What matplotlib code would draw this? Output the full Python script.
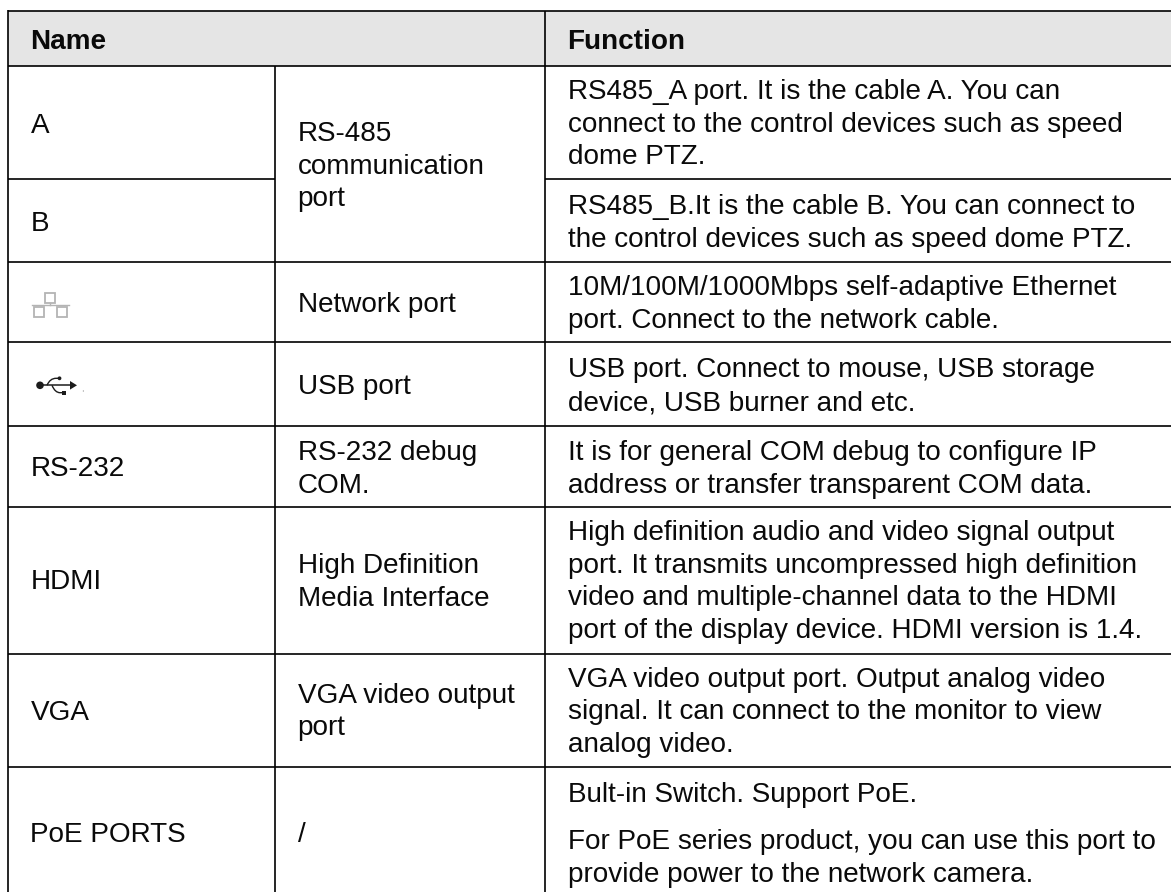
import matplotlib
matplotlib.use("Agg")
import matplotlib.pyplot as plt
from matplotlib.patches import Rectangle, Circle, Polygon, PathPatch
from matplotlib.path import Path

W, H = 1171, 892
plt.rcParams['font.family'] = ['Liberation Sans', 'DejaVu Sans']

col_lines = [7.7, 275.3, 545]
row_lines = [11.2, 65.7, 179.3, 261.7, 342, 426, 506.7, 653.7, 766.7]

header = ["Name", "Function"]
header_base = 48.7

names = ["A", "B", "RS-232", "HDMI", "VGA", "PoE PORTS"]
name_base = [133.3, 230.7, 476, 589.3, 720, 841.7]

ports = ["RS-485", "communication", "port", "Network port", "USB port", "RS-232 debug", "COM.",
         "High Definition", "Media Interface", "VGA video output", "port", "/"]
port_base = [141, 173.7, 206, 311.7, 393.5, 460, 492.7, 573.3, 605.7, 703.3, 735, 841.7]

functions = [
    "RS485_A port. It is the cable A. You can",
    "connect to the control devices such as speed",
    "dome PTZ.",
    "RS485_B.It is the cable B. You can connect to",
    "the control devices such as speed dome PTZ.",
    "10M/100M/1000Mbps self-adaptive Ethernet",
    "port. Connect to the network cable.",
    "USB port. Connect to mouse, USB storage",
    "device, USB burner and etc.",
    "It is for general COM debug to configure IP",
    "address or transfer transparent COM data.",
    "High definition audio and video signal output",
    "port. It transmits uncompressed high definition",
    "video and multiple-channel data to the HDMI",
    "port of the display device. HDMI version is 1.4.",
    "VGA video output port. Output analog video",
    "signal. It can connect to the monitor to view",
    "analog video.",
    "Bult-in Switch. Support PoE.",
    "For PoE series product, you can use this port to",
    "provide power to the network camera.",
]
function_base = [99.3, 132.3, 164.3, 214, 246.7, 295, 328, 377, 410, 460, 492.7,
                 540, 572.7, 605, 638, 686.7, 719, 751.5, 801.7, 849.3, 881.7]

fig = plt.figure(figsize=(W / 100, H / 100), dpi=100)
ax = fig.add_axes([0, 0, 1, 1])
ax.set_xlim(0, W)
ax.set_ylim(H, 0)
ax.axis("off")

FS = 20.07
LW = 1.2
INK = "#0a0a0a"
kw = dict(fontsize=FS, color=INK, va="baseline")
tx = [30.5, 297.5, 567.5]

ax.add_patch(Rectangle((col_lines[0], row_lines[0]), W - col_lines[0], row_lines[1] - row_lines[0],
                       fc="#e5e5e5", ec="none", zorder=0))


def hl(y, x0=col_lines[0], x1=W):
    ax.plot([x0, x1], [y, y], color="black", lw=LW, solid_capstyle="butt", zorder=1)


def vl(x, y0, y1):
    ax.plot([x, x], [y0, y1], color="black", lw=LW, solid_capstyle="butt", zorder=1)


hl(row_lines[0])
hl(row_lines[1])
hl(row_lines[2], col_lines[0], col_lines[1])
hl(row_lines[2], col_lines[2], W)
for y in row_lines[3:]:
    hl(y)
vl(col_lines[0], row_lines[0] - 0.8, H)
vl(col_lines[1], row_lines[1], H)
vl(col_lines[2], row_lines[0], H)

ax.text(tx[0], header_base, header[0], fontweight="bold", **kw)
ax.text(tx[2], header_base, header[1], fontweight="bold", **kw)
for s, b in zip(names, name_base):
    ax.text(tx[0], b, s, **kw)
for s, b in zip(ports, port_base):
    ax.text(tx[1], b, s, **kw)
for s, b in zip(functions, function_base):
    ax.text(tx[2], b, s, **kw)

# network icon
g = "#b4b4b4"
for (x, y) in [(45.3, 293), (34.3, 307), (56.8, 307)]:
    ax.add_patch(Rectangle((x, y), 10, 10, fc="white", ec=g, lw=1.3, zorder=2))
ax.plot([32, 68.5], [304.7, 304.7], color=g, lw=1.0, zorder=2)
ax.plot([50.3, 50.3], [303, 305], color=g, lw=1.0, zorder=2)

# usb icon
k = "#1c1c1c"
ax.add_patch(Circle((40, 385.3), 3.8, fc=k, ec="none", zorder=2))
ax.plot([40, 72], [385.3, 385.3], color=k, lw=1.1, zorder=2)
ax.add_patch(Polygon([[70, 381], [77, 385.3], [70, 389.6]], fc=k, ec="none", zorder=2))
ax.add_patch(PathPatch(Path([(47, 385.3), (50, 378.3), (56, 378.3), (60, 378.3)],
                            [Path.MOVETO, Path.CURVE3, Path.CURVE3, Path.LINETO]),
                       fc="none", ec=k, lw=1.0, zorder=2))
ax.add_patch(PathPatch(Path([(52, 385.3), (55, 392.7), (60, 392.7), (63, 392.7)],
                            [Path.MOVETO, Path.CURVE3, Path.CURVE3, Path.LINETO]),
                       fc="none", ec=k, lw=1.0, zorder=2))
ax.add_patch(Circle((59.5, 378.3), 1.9, fc=k, ec="none", zorder=2))
ax.add_patch(Rectangle((61.5, 390.7), 4, 4, fc=k, ec="none", zorder=2))
ax.add_patch(Circle((83.3, 391), 0.5, fc="#555555", ec="none", zorder=2))

fig.savefig("out.png", dpi=100)
